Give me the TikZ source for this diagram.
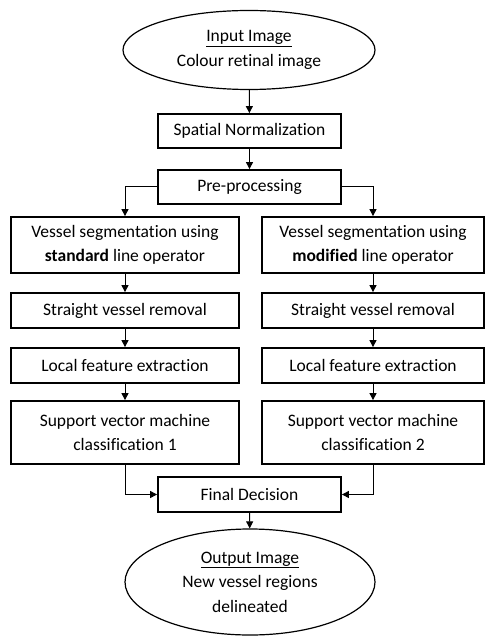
\documentclass[tikz,border=0pt]{standalone}
\usepackage{fontspec}
\setmainfont[Ligatures=NoCommon]{Carlito}
\usetikzlibrary{shapes.geometric,arrows.meta}

\tikzset{
  stepbox/.style={draw, line width=1.8pt, inner sep=0pt, align=center},
  terminal/.style={draw, ellipse, line width=1.2pt, inner sep=0pt, align=center},
  arr/.style={-{Triangle[length=7pt,width=7pt]}, line width=1pt}
}

\begin{document}
\begin{tikzpicture}[x=1pt,y=-1pt, font=\fontsize{17.5}{24.5}\selectfont]

  \useasboundingbox (0,0) rectangle (485,636);

  % Ellipses
  \node[terminal, minimum width=252pt, minimum height=79pt] (input) at (249,50)
    {\underline{Input Image}\\Colour retinal image};
  \node[terminal, minimum width=250pt, minimum height=106pt] (output) at (250,582)
    {\underline{Output Image}\\New vessel regions\\delineated};

  % Middle boxes
  \node[stepbox, minimum width=183pt, minimum height=34pt] (spatial) at (249.5,131) {Spatial Normalization};
  \node[stepbox, minimum width=183pt, minimum height=34pt] (pre) at (249.5,187) {Pre-processing};
  \node[stepbox, minimum width=183pt, minimum height=35pt] (final) at (249.5,494.5) {Final Decision};

  % Left column
  \node[stepbox, minimum width=228pt, minimum height=56pt] (segL) at (125,245)
    {Vessel segmentation using\\\textbf{standard} line operator};
  \node[stepbox, minimum width=228pt, minimum height=35pt] (straightL) at (125,310.5) {Straight vessel removal};
  \node[stepbox, minimum width=228pt, minimum height=35pt] (localL) at (125,365.5) {Local feature extraction};
  \node[stepbox, minimum width=228pt, minimum height=63pt] (svmL) at (125,432.5)
    {Support vector machine\\classification 1};

  % Right column
  \node[stepbox, minimum width=222pt, minimum height=56pt] (segR) at (373,245)
    {Vessel segmentation using\\\textbf{modified} line operator};
  \node[stepbox, minimum width=222pt, minimum height=35pt] (straightR) at (373,310.5) {Straight vessel removal};
  \node[stepbox, minimum width=222pt, minimum height=35pt] (localR) at (373,365.5) {Local feature extraction};
  \node[stepbox, minimum width=222pt, minimum height=63pt] (svmR) at (373,432.5)
    {Support vector machine\\classification 2};

  % Straight arrows
  \foreach \a/\b in {input/spatial, spatial/pre, final/output,
                     segL/straightL, straightL/localL, localL/svmL,
                     segR/straightR, straightR/localR, localR/svmR} {
    \draw[arr] (\a) -- (\b);
  }

  % Branch and merge arrows
  \draw[arr] (pre.west) -| (segL.north);
  \draw[arr] (pre.east) -| (segR.north);
  \draw[arr] (svmL.south) |- (final.west);
  \draw[arr] (svmR.south) |- (final.east);

\end{tikzpicture}
\end{document}
